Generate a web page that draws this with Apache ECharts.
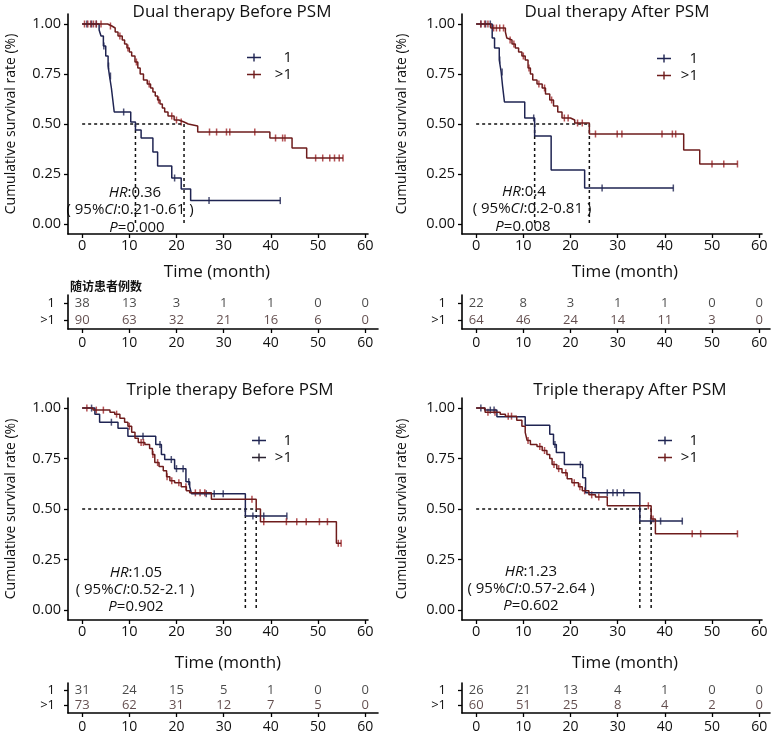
<!DOCTYPE html>
<html>
<head>
<meta charset="utf-8">
<script src="https://cdn.jsdelivr.net/npm/echarts@6.0.0/dist/echarts.min.js"></script>
<style>
html, body { margin: 0; padding: 0; background: #fff; }
#main { width: 778px; height: 739px; }
</style>
</head>
<body>
<div id="main"></div>
<script>
// survival steps: [month, survival], censor times, medians, numbers at risk
var tickMonths = [0, 10, 20, 30, 40, 50, 60];
var tickSurv = [0, 0.25, 0.5, 0.75, 1];
var riskTimes = [0, 10, 20, 30, 40, 50, 60];
var groups = ['>1', '1'];

var dualBefore1 = [[0,1],[3.6,0.97],[4.0,0.94],[4.5,0.89],[5.0,0.84],[5.5,0.79],[5.8,0.74],[6.2,0.68],[6.5,0.62],[6.8,0.56],[10.3,0.51],[11.3,0.47],[12.5,0.43],[15.0,0.36],[16.0,0.29],[19.0,0.23],[21.0,0.175],[23.0,0.117],[42.0,0.117]];
var dualBefore2 = [[0,1],[5.4,0.99],[6.3,0.98],[7.0,0.96],[7.6,0.94],[8.5,0.92],[9.0,0.90],[9.5,0.88],[10.0,0.86],[10.5,0.84],[11.2,0.81],[11.8,0.78],[12.3,0.75],[13.0,0.72],[13.8,0.70],[14.5,0.68],[15.0,0.66],[15.5,0.64],[16.0,0.62],[16.5,0.60],[17.0,0.58],[17.5,0.56],[18.2,0.54],[19.5,0.52],[20.5,0.51],[21.6,0.50],[22.5,0.49],[24.5,0.46],[39.8,0.43],[44.5,0.38],[47.6,0.33],[55.3,0.33]];
var dualBeforeCens1 = [1.0,2.0,3.0,4.6,5.6,6.0,8.8,19.6,26.9,42.0];
var dualBeforeCens2 = [0.5,1.2,1.8,2.4,3.0,4.0,6.0,8.0,9.7,11.5,14.2,16.2,19.0,20.0,21.0,27.0,28.5,30.6,31.3,36.6,41.0,42.5,43.0,49.5,51.0,52.5,53.5,54.5,55.3];
var dualBeforeMed = [11.3, 21.6];
var dualBeforeRisk1 = [38, 13, 3, 1, 1, 0, 0];
var dualBeforeRisk2 = [90, 63, 32, 21, 16, 6, 0];

var dualAfter1 = [[0,1],[3.4,0.93],[3.9,0.88],[4.9,0.82],[5.3,0.76],[5.6,0.69],[6.0,0.61],[10.3,0.53],[12.4,0.44],[15.9,0.27],[23.0,0.18],[41.8,0.18]];
var dualAfter2 = [[0,1],[3.1,0.98],[6.2,0.96],[6.5,0.93],[6.9,0.92],[7.6,0.90],[8.3,0.88],[9.0,0.86],[9.7,0.84],[10.4,0.82],[11.0,0.78],[11.5,0.75],[12.0,0.72],[12.9,0.70],[14.0,0.68],[14.7,0.65],[15.6,0.62],[16.4,0.59],[17.3,0.56],[18.2,0.53],[20.0,0.52],[20.9,0.505],[24.0,0.45],[44.0,0.37],[47.4,0.30],[55.4,0.30]];
var dualAfterCens1 = [1.0,2.0,3.0,5.0,5.5,12.2,26.7,41.8];
var dualAfterCens2 = [1.0,1.8,2.5,3.7,4.3,5.0,5.8,7.2,8.0,10.0,11.2,13.3,14.5,16.0,18.7,19.5,21.5,22.5,25.3,29.9,30.9,39.4,41.6,42.3,50.0,52.5,55.4];
var dualAfterMed = [12.4, 24.0];
var dualAfterRisk1 = [22, 8, 3, 1, 1, 0, 0];
var dualAfterRisk2 = [64, 46, 24, 14, 11, 3, 0];

var tripleBefore1 = [[0,1],[2.7,0.97],[3.7,0.93],[7.6,0.90],[9.7,0.86],[15.6,0.82],[16.8,0.77],[17.5,0.745],[19.6,0.70],[22.0,0.635],[22.8,0.61],[23.2,0.575],[34.6,0.465],[43.4,0.465]];
var tripleBefore2 = [[0,1],[2.3,0.99],[5.9,0.98],[6.9,0.97],[8.0,0.95],[9.0,0.93],[9.7,0.91],[10.5,0.88],[11.2,0.85],[11.9,0.83],[13.3,0.82],[14.3,0.80],[14.9,0.77],[15.4,0.73],[16.3,0.71],[17.2,0.69],[17.9,0.66],[18.6,0.64],[19.6,0.63],[21.0,0.61],[22.1,0.59],[22.8,0.58],[27.4,0.548],[36.9,0.50],[37.8,0.437],[53.9,0.33],[54.9,0.33]];
var tripleBeforeCens1 = [2.0,6.2,12.9,16.5,18.9,20.0,21.4,22.6,26.3,28.0,29.9,36.2,38.5,43.4];
var tripleBeforeCens2 = [1.0,3.0,4.5,7.3,10.0,12.5,13.0,15.0,16.0,18.0,19.0,20.5,22.0,24.0,25.0,26.0,36.0,38.5,43.3,45.5,47.5,50.3,52.0,54.3,54.9];
var tripleBeforeMed = [34.6, 36.9];
var tripleBeforeRisk1 = [31, 24, 15, 5, 1, 0, 0];
var tripleBeforeRisk2 = [73, 62, 31, 12, 7, 5, 0];

var tripleAfter1 = [[0,1],[1.8,0.99],[4.4,0.957],[10.4,0.915],[15.6,0.87],[16.4,0.82],[17.0,0.78],[18.7,0.72],[22.6,0.655],[23.2,0.58],[34.7,0.44],[43.7,0.44]];
var tripleAfter2 = [[0,1],[1.9,0.98],[5.1,0.97],[6.2,0.96],[8.6,0.94],[9.7,0.91],[10.4,0.88],[10.8,0.84],[11.5,0.82],[12.9,0.81],[14.0,0.79],[15.0,0.77],[15.6,0.75],[16.1,0.72],[17.1,0.70],[18.2,0.68],[19.3,0.65],[20.3,0.63],[21.7,0.61],[22.5,0.59],[23.9,0.57],[25.3,0.56],[27.8,0.516],[37.1,0.45],[38.0,0.377],[55.4,0.377]];
var tripleAfterCens1 = [1.0,3.0,3.8,16.7,22.1,27.8,29.0,29.9,31.3,37.0,39.1,43.7];
var tripleAfterCens2 = [2.5,4.0,6.8,7.5,11.0,13.5,14.5,16.5,17.5,19.0,20.8,22.0,23.0,24.5,26.0,36.5,37.5,45.8,47.6,55.4];
var tripleAfterMed = [34.7, 37.1];
var tripleAfterRisk1 = [26, 21, 13, 4, 1, 0, 0];
var tripleAfterRisk2 = [60, 51, 25, 8, 4, 2, 0];

var FONT = '"Open Sans", "Noto Sans", "Noto Sans CJK SC", sans-serif';
var BLUE = '#1f2452';
var RED = '#6e1c1c';
var RED_MARK = '#a02428';
var PLUS = 'path://M0,3.3H14V4.7H0Z M6.3,0H7.7V8H6.3Z';

var panels = [
  { title: 'Dual therapy Before PSM', c1: dualBefore1, c2: dualBefore2, cen1: dualBeforeCens1, cen2: dualBeforeCens2,
    med: dualBeforeMed, r1: dualBeforeRisk1, r2: dualBeforeRisk2, hr: '0.36', ci: '0.21-0.61', p: '0.000',
    L: 68, T: 14, H: 220, RT: 295, RH: 34, RW: 310, titleXY: [232, 12], timeXY: [217, 272],
    leg: [247, 50, 26], legCol: [BLUE, RED], hrXY: [[135, 193], [130, 210], [137, 228]], gap: 50, rm: 13 },
  { title: 'Dual therapy After PSM', c1: dualAfter1, c2: dualAfter2, cen1: dualAfterCens1, cen2: dualAfterCens2,
    med: dualAfterMed, r1: dualAfterRisk1, r2: dualAfterRisk2, hr: '0.4', ci: '0.2-0.81', p: '0.008',
    L: 462, T: 14, H: 220, RT: 295, RH: 34, RW: 308, titleXY: [617, 12], timeXY: [625, 272],
    leg: [657, 51, 22], legCol: [BLUE, RED], hrXY: [[524, 192], [532, 209], [523, 227]], gap: 53, rm: 16 },
  { title: 'Triple therapy Before PSM', c1: tripleBefore1, c2: tripleBefore2, cen1: tripleBeforeCens1, cen2: tripleBeforeCens2,
    med: tripleBeforeMed, r1: tripleBeforeRisk1, r2: tripleBeforeRisk2, hr: '1.05', ci: '0.52-2.1', p: '0.902',
    L: 68, T: 398, H: 222, RT: 683, RH: 30, RW: 310, titleXY: [230, 390], timeXY: [228, 663],
    leg: [252, 433, 21], legCol: [BLUE, '#2a2230'], hrXY: [[136, 573], [135, 590], [136, 607]], gap: 50, rm: 13 },
  { title: 'Triple therapy After PSM', c1: tripleAfter1, c2: tripleAfter2, cen1: tripleAfterCens1, cen2: tripleAfterCens2,
    med: tripleAfterMed, r1: tripleAfterRisk1, r2: tripleAfterRisk2, hr: '1.23', ci: '0.57-2.64', p: '0.602',
    L: 462, T: 398, H: 222, RT: 683, RH: 30, RW: 308, titleXY: [630, 390], timeXY: [625, 663],
    leg: [658, 433, 21], legCol: [BLUE, RED], hrXY: [[531, 572], [531, 589], [531, 606]], gap: 53, rm: 16 }
];

function survAt(curve, t) {
  var s = 1;
  for (var i = 0; i < curve.length; i++) {
    if (curve[i][0] <= t) s = curve[i][1];
  }
  return s;
}

function txt(x, y, text, size, extra) {
  var style = { text: text, fontSize: size, fontFamily: FONT, fill: '#111', align: 'center', verticalAlign: 'middle' };
  for (var k in extra) style[k] = extra[k];
  return { type: 'text', x: x, y: y, silent: true, style: style };
}

var italic = { i: { fontStyle: 'italic', fontSize: 15, fontFamily: FONT, fill: '#111' } };
var axisLine = { show: true, onZero: false, lineStyle: { color: '#000', width: 1.6 } };
var tickStyle = { color: '#000', width: 1.3 };

var grids = [], xAxes = [], yAxes = [], series = [], legends = [], graphics = [];

panels.forEach(function (p) {
  var gi = grids.length;
  grids.push({ left: p.L, top: p.T, width: 300, height: p.H });
  xAxes.push({
    type: 'value', gridIndex: gi, min: -3, max: 60.6,
    axisLine: axisLine,
    axisTick: { show: true, customValues: tickMonths, length: 4, lineStyle: tickStyle },
    axisLabel: { customValues: tickMonths, margin: 5, fontSize: 14.5, color: '#111', fontFamily: FONT },
    splitLine: { show: false }
  });
  yAxes.push({
    type: 'value', gridIndex: gi, min: -0.05, max: 1.05,
    name: 'Cumulative survival rate (%)', nameLocation: 'middle', nameGap: p.gap,
    nameTextStyle: { fontSize: 14, color: '#111', fontFamily: FONT },
    axisLine: axisLine,
    axisTick: { show: true, customValues: tickSurv, length: 4, lineStyle: tickStyle },
    axisLabel: { customValues: tickSurv, margin: 7, fontSize: 14.5, color: '#111', fontFamily: FONT,
      formatter: function (v) { return v.toFixed(2); } },
    splitLine: { show: false }
  });

  // median guide lines
  var dash = { color: '#111', width: 1.5, type: [3, 3] };
  var mMax = Math.max.apply(null, p.med);
  series.push({ type: 'line', xAxisIndex: gi, yAxisIndex: gi, symbol: 'none', silent: true,
    data: [[0, 0.5], [mMax, 0.5]], lineStyle: dash });
  p.med.forEach(function (m) {
    series.push({ type: 'line', xAxisIndex: gi, yAxisIndex: gi, symbol: 'none', silent: true,
      data: [[m, 0.5], [m, 0]], lineStyle: dash });
  });

  // curves
  [[p.c1, p.cen1, '1', BLUE, BLUE], [p.c2, p.cen2, '>1', RED, RED_MARK]].forEach(function (c) {
    series.push({ type: 'line', name: c[2], xAxisIndex: gi, yAxisIndex: gi, step: 'end', symbol: 'none',
      data: c[0], lineStyle: { color: c[3], width: 1.5 }, itemStyle: { color: c[3] }, silent: true });
    series.push({ type: 'scatter', xAxisIndex: gi, yAxisIndex: gi, symbol: 'rect', symbolSize: [1.5, 7],
      data: c[1].map(function (t) { return [t, survAt(c[0], t)]; }),
      itemStyle: { color: c[4] }, silent: true });
  });

  // risk table
  var ri = grids.length;
  grids.push({ left: p.L, top: p.RT, width: p.RW, height: p.RH });
  xAxes.push({
    type: 'value', gridIndex: ri, min: -3, max: -3 + p.RW / 4.717,
    axisLine: axisLine,
    axisTick: { show: true, customValues: tickMonths, length: 4, lineStyle: tickStyle },
    axisLabel: { customValues: tickMonths, margin: 7, fontSize: 14, color: '#111', fontFamily: FONT },
    splitLine: { show: false }
  });
  yAxes.push({
    type: 'category', gridIndex: ri, data: groups,
    axisLine: axisLine,
    axisTick: { show: true, alignWithLabel: true, length: 4, lineStyle: tickStyle },
    axisLabel: { interval: 0, margin: p.rm, fontSize: 13, color: '#111', fontFamily: FONT },
    splitLine: { show: false }
  });
  [[p.r1, 1, '#1a1a1a'], [p.r2, 0, '#3a1f1f']].forEach(function (r) {
    series.push({ type: 'scatter', xAxisIndex: ri, yAxisIndex: ri, symbolSize: 1, silent: true,
      itemStyle: { color: 'transparent' },
      data: riskTimes.map(function (t, k) { return [t, r[1], r[0][k]]; }),
      label: { show: true, position: 'inside', fontSize: 13, fontFamily: FONT, color: r[2],
        formatter: function (q) { return String(q.value[2]); } } });
  });

  legends.push({
    orient: 'vertical', left: p.leg[0], top: p.leg[1], padding: 0, itemGap: 2,
    itemWidth: 14, itemHeight: 8, icon: PLUS, selectedMode: false,
    data: [{ name: '1', itemStyle: { color: p.legCol[0] } }, { name: '>1', itemStyle: { color: p.legCol[1] } }],
    formatter: function (n) { return '{a|' + n + '}'; },
    textStyle: { fontSize: 15, lineHeight: 14, color: '#111', fontFamily: FONT,
      rich: { a: { width: p.leg[2], align: 'right', fontSize: 15, fontFamily: FONT, color: '#111' } } }
  });

  graphics.push(txt(p.titleXY[0], p.titleXY[1], p.title, 17));
  graphics.push(txt(p.timeXY[0], p.timeXY[1], 'Time (month)', 17));
  graphics.push(txt(p.hrXY[0][0], p.hrXY[0][1], '{i|HR}:' + p.hr, 15, { rich: italic }));
  graphics.push(txt(p.hrXY[1][0], p.hrXY[1][1], '( 95%{i|CI}:' + p.ci + ' )', 15, { rich: italic }));
  graphics.push(txt(p.hrXY[2][0], p.hrXY[2][1], '{i|P}=' + p.p, 15, { rich: italic }));
});

graphics.push(txt(70, 286, '随访患者例数', 12, { align: 'left', fontWeight: 'bold', fontFamily: '"Noto Sans CJK SC", sans-serif' }));

var chart = echarts.init(document.getElementById('main'), null, { renderer: 'canvas' });

option = {
  animation: false,
  backgroundColor: '#fff',
  grid: grids,
  xAxis: xAxes,
  yAxis: yAxes,
  legend: legends,
  graphic: graphics,
  series: series
};

chart.setOption(option);
</script>
</body>
</html>
